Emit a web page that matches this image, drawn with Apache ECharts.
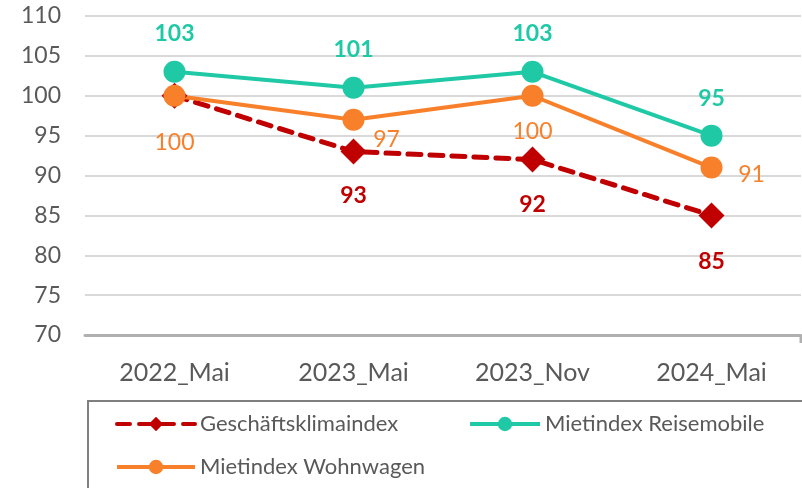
<!DOCTYPE html>
<html>
<head>
<meta charset="utf-8">
<script src="https://cdn.jsdelivr.net/npm/echarts@6/dist/echarts.min.js"></script>
<style>html,body{margin:0;padding:0;background:#fff}#c{width:802px;height:488px}</style>
</head>
<body>
<div id="c"></div>
<script>
const categories = ['2022_Mai', '2023_Mai', '2023_Nov', '2024_Mai'];
const geschaeftsklima = [100, 93, 92, 85];
const reisemobile = [103, 101, 103, 95];
const wohnwagen = [100, 97, 100, 91];
const yTicks = { min: 70, max: 110, interval: 5 };

const FONT = 'Lato';
const GRAY = '#595959';
const RED = '#C00000', GREEN = '#20C9A6', ORANGE = '#F8802A';

const redOffsets = [null, [0, 44], [0, 45], [0, 46]];
const greenOffsets = [[0, -38], [0, -38], [0, -38], [0, -37]];
const orangeOffsets = [[0, 47], [33, 20], [0, 36], [40, 7]];

function mk(vals, offs, color, bold) {
  return vals.map((v, i) => ({
    value: v,
    label: offs[i] ? { show: true, position: 'inside', offset: offs[i], color: color,
      fontFamily: FONT, fontSize: 23, fontWeight: bold ? 'bold' : 'normal' } : { show: false }
  }));
}

const legendText = { color: GRAY, fontFamily: FONT, fontSize: 22 };
const chart = echarts.init(document.getElementById('c'));
chart.setOption({
  animation: false,
  grid: { left: 85, right: 1, top: 16, bottom: 153 },
  xAxis: {
    type: 'category', data: categories, boundaryGap: true,
    axisLine: { lineStyle: { color: '#B0B0B0', width: 3 } },
    axisTick: { alignWithLabel: true, length: 8, lineStyle: { color: '#B0B0B0', width: 3 } },
    axisLabel: { color: GRAY, fontFamily: FONT, fontSize: 25, margin: 25 }
  },
  yAxis: {
    type: 'value', min: yTicks.min, max: yTicks.max, interval: yTicks.interval,
    axisLine: { show: false }, axisTick: { show: false },
    splitLine: { lineStyle: { color: '#D9D9D9', width: 2 } },
    axisLabel: { color: GRAY, fontFamily: FONT, fontSize: 23, margin: 24 }
  },
  legend: [
    { data: ['Geschäftsklimaindex'], left: 110, top: 408, itemWidth: 78, itemHeight: 18,
      lineStyle: { width: 4 }, textStyle: legendText },
    { data: ['Mietindex Reisemobile'], left: 463, top: 408, itemWidth: 70, itemHeight: 18,
      lineStyle: { width: 4 }, textStyle: legendText },
    { data: ['Mietindex Wohnwagen'], left: 110, top: 451, itemWidth: 78, itemHeight: 18,
      lineStyle: { width: 4 }, textStyle: legendText }
  ],
  graphic: [
    { type: 'rect', shape: { x: 88, y: 401, width: 730, height: 100 }, style: { fill: 'none', stroke: '#7F7F7F', lineWidth: 2 } },
    { type: 'line', shape: { x1: 801, y1: 335, x2: 801, y2: 343 }, style: { stroke: '#B0B0B0', lineWidth: 3 } }
  ],
  series: [
    { name: 'Geschäftsklimaindex', type: 'line', data: mk(geschaeftsklima, redOffsets, RED, true),
      symbol: 'diamond', symbolSize: 26, color: RED,
      lineStyle: { color: RED, width: 5, type: [13, 9], cap: 'round' },
      itemStyle: { color: RED } },
    { name: 'Mietindex Reisemobile', type: 'line', data: mk(reisemobile, greenOffsets, GREEN, true),
      symbol: 'circle', symbolSize: 22, color: GREEN,
      lineStyle: { color: GREEN, width: 4 }, itemStyle: { color: GREEN } },
    { name: 'Mietindex Wohnwagen', type: 'line', data: mk(wohnwagen, orangeOffsets, ORANGE, false),
      symbol: 'circle', symbolSize: 22, color: ORANGE,
      lineStyle: { color: ORANGE, width: 4 }, itemStyle: { color: ORANGE } }
  ]
});
</script>
</body>
</html>
